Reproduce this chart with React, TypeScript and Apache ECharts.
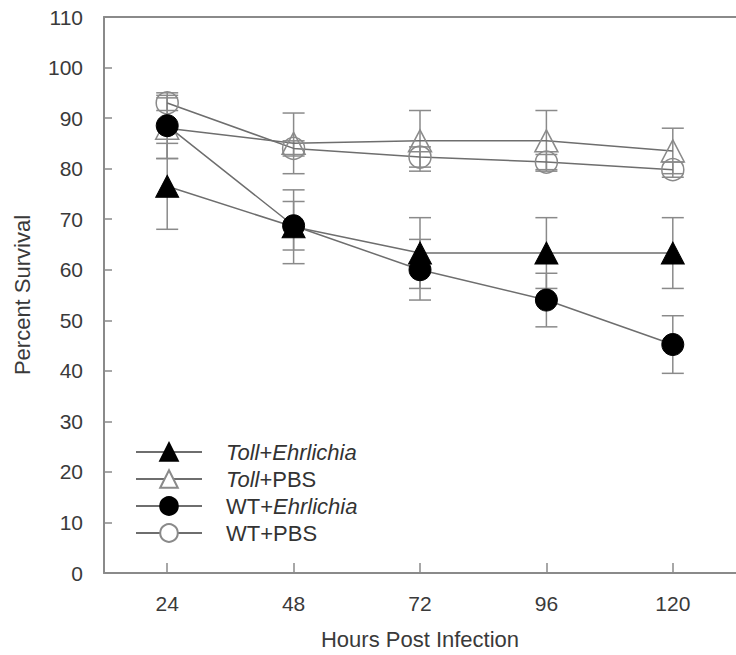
import React, { useEffect, useRef } from "react";
import * as echarts from "echarts";

const hours = [24, 48, 72, 96, 120];
const yTicks = [0, 10, 20, 30, 40, 50, 60, 70, 80, 90, 100, 110];

const tollEhr = [76.5, 68.5, 63.3, 63.3, 63.3];
const tollEhrErr = [8.5, 7.3, 7, 7, 7];
const tollPbs = [88, 85, 85.5, 85.5, 83.5];
const tollPbsErr = [6, 6, 6, 6, 4.5];
const wtEhr = [88.5, 68.7, 60, 54, 45.2];
const wtEhrErr = [6.5, 4.8, 6, 5.3, 5.7];
const wtPbs = [93, 84, 82.3, 81.3, 79.8];
const wtPbsErr = [1.5, 1.5, 2, 1.5, 1.5];

const FONT = "Liberation Sans";

function pairs(vals: number[]) {
  return hours.map((h, i) => [h, vals[i]]);
}
function errs(vals: number[], e: number[]) {
  return hours.map((h, i) => [h, vals[i] - e[i], vals[i] + e[i]]);
}

function errorSeries(vals: number[], e: number[]) {
  return {
    type: "custom",
    z: 1,
    silent: true,
    encode: { x: 0, y: [1, 2] },
    data: errs(vals, e),
    renderItem: (params: any, api: any) => {
      const x = api.value(0);
      const lo = api.coord([x, api.value(1)]);
      const hi = api.coord([x, api.value(2)]);
      const w = 11;
      const st = { stroke: "#8a8a8a", lineWidth: 1.5 };
      return {
        type: "group",
        children: [
          { type: "line", shape: { x1: lo[0], y1: lo[1], x2: hi[0], y2: hi[1] }, style: st },
          { type: "line", shape: { x1: lo[0] - w, y1: lo[1], x2: lo[0] + w, y2: lo[1] }, style: st },
          { type: "line", shape: { x1: hi[0] - w, y1: hi[1], x2: hi[0] + w, y2: hi[1] }, style: st },
        ],
      };
    },
  };
}

function lineSeries(name: string, vals: number[], symbol: string, filled: boolean) {
  return {
    name,
    type: "line",
    z: 3,
    data: pairs(vals),
    symbol,
    symbolSize: symbol === "triangle" ? [23, 22] : 22,
    showAllSymbol: true,
    lineStyle: { color: "#6e6e6e", width: 1.5 },
    itemStyle: filled
      ? { color: "#000", borderColor: "#000", borderWidth: 1 }
      : { color: "rgba(255,255,255,0)", borderColor: "#8a8a8a", borderWidth: 1.5 },
  };
}

export default function App() {
  const ref = useRef<HTMLDivElement>(null);
  useEffect(() => {
    if (!ref.current) return;
    const chart = echarts.init(ref.current, null, { renderer: "svg" });
    const labelStyle = { fontFamily: FONT, fontSize: 21, color: "#3a3a3a" };
    chart.setOption({
      animation: false,
      backgroundColor: "#fff",
      grid: { left: 104, right: -11, top: 17, bottom: 81, containLabel: false },
      xAxis: [
        {
          type: "value",
          min: 12,
          max: 132,
          position: "bottom",
          name: "Hours Post Infection",
          nameLocation: "middle",
          nameGap: 55,
          nameTextStyle: { ...labelStyle, fontSize: 22 },
          axisLine: { show: true, lineStyle: { color: "#8a8a8a", width: 2 } },
          axisTick: { show: true, inside: true, length: 10, customValues: hours, lineStyle: { color: "#8a8a8a", width: 1.5 } },
          axisLabel: { customValues: hours, margin: 20, ...labelStyle },
          splitLine: { show: false },
        },
        {
          type: "value",
          min: 12,
          max: 132,
          position: "top",
          axisLine: { show: true, lineStyle: { color: "#8a8a8a", width: 2 } },
          axisTick: { show: false },
          axisLabel: { show: false },
          splitLine: { show: false },
        },
      ],
      yAxis: {
        type: "value",
        min: 0,
        max: 110,
        interval: 10,
        name: "Percent Survival",
        nameLocation: "middle",
        nameGap: 71,
        nameRotate: 90,
        nameTextStyle: { ...labelStyle, fontSize: 22 },
        axisLine: { show: true, lineStyle: { color: "#8a8a8a", width: 2 } },
        axisTick: { show: true, inside: true, length: 8, lineStyle: { color: "#8a8a8a", width: 1.5 } },
        axisLabel: { margin: 21, ...labelStyle, formatter: (v: number) => (yTicks.includes(v) ? String(v) : "") },
        splitLine: { show: false },
      },
      legend: {
        orient: "vertical",
        left: 135,
        top: 441,
        itemWidth: 66,
        itemHeight: 22,
        itemGap: 5,
        padding: 0,
        data: [
          { name: "Toll+Ehrlichia" },
          { name: "Toll+PBS", itemStyle: { color: "#fff" } },
          { name: "WT+Ehrlichia" },
          { name: "WT+PBS", itemStyle: { color: "#fff" } },
        ],
        formatter: (name: string) => {
          if (name === "Toll+Ehrlichia") return "{i|Toll}{n|+}{i|Ehrlichia}";
          if (name === "Toll+PBS") return "{i|Toll}{n|+PBS}";
          if (name === "WT+Ehrlichia") return "{n|WT+}{i|Ehrlichia}";
          return "{n|WT+PBS}";
        },
        textStyle: {
          padding: [0, 0, 0, 19],
          rich: {
            i: { fontFamily: FONT, fontSize: 22, lineHeight: 22, fontStyle: "italic", color: "#333" },
            n: { fontFamily: FONT, fontSize: 22, lineHeight: 22, color: "#333" },
          },
        },
      },
      series: [
        errorSeries(tollPbs, tollPbsErr),
        errorSeries(wtPbs, wtPbsErr),
        errorSeries(tollEhr, tollEhrErr),
        errorSeries(wtEhr, wtEhrErr),
        lineSeries("WT+PBS", wtPbs, "circle", false),
        lineSeries("Toll+PBS", tollPbs, "triangle", false),
        lineSeries("Toll+Ehrlichia", tollEhr, "triangle", true),
        lineSeries("WT+Ehrlichia", wtEhr, "circle", true),
      ],
    });
    return () => chart.dispose();
  }, []);
  return (
    <div
      ref={ref}
      style={{ position: "fixed", left: 0, top: 0, width: 736, height: 655, background: "#fff" }}
    />
  );
}
